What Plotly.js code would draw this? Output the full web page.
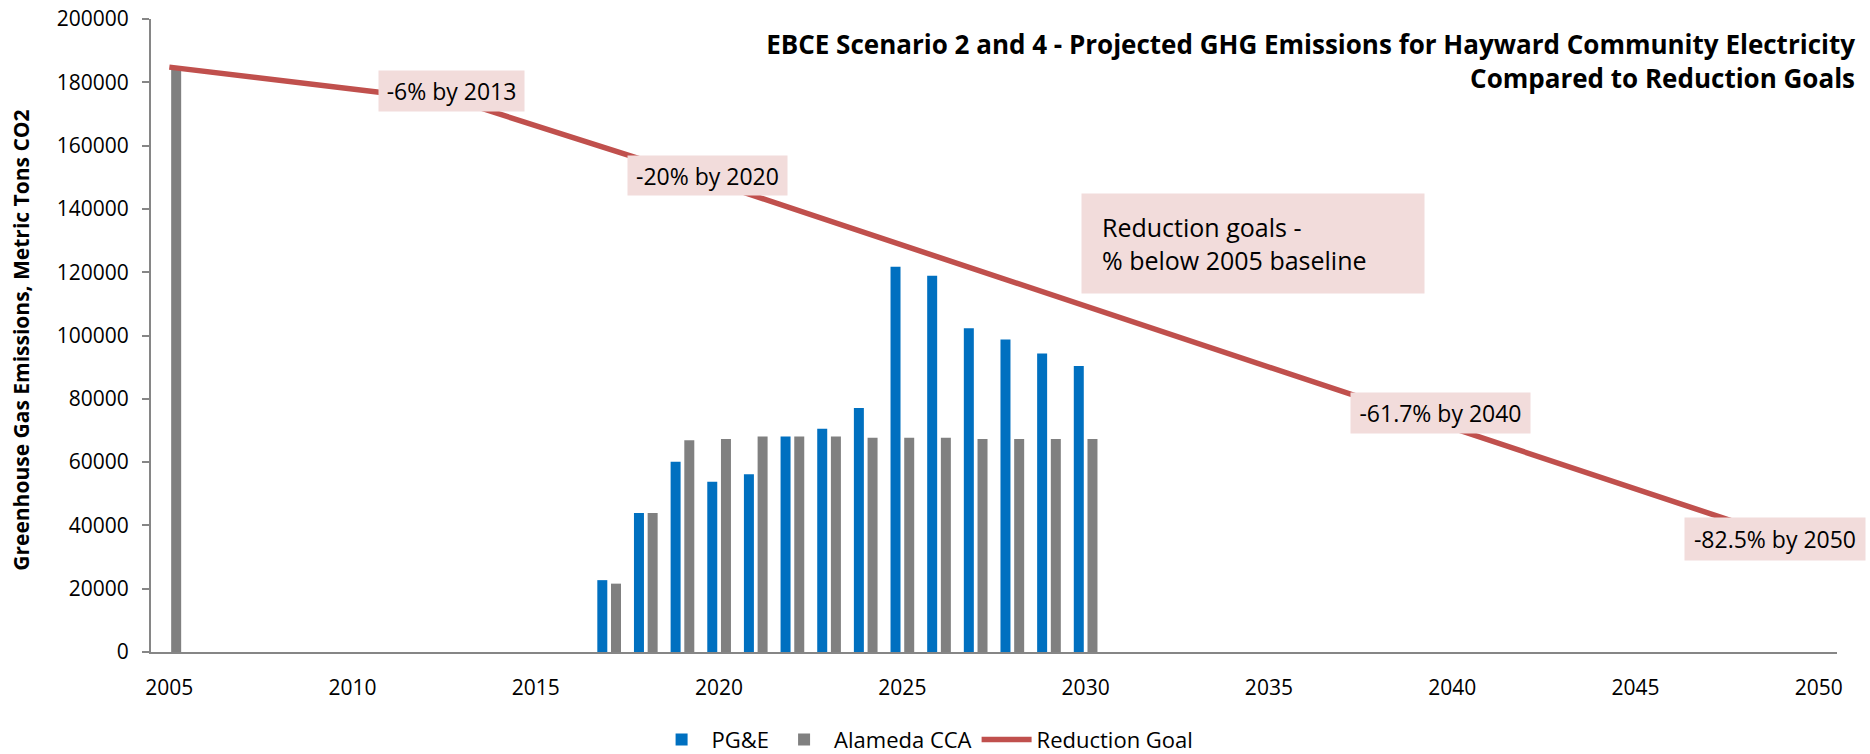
<!DOCTYPE html>
<html>
<head>
<meta charset="utf-8">
<script src="https://cdn.plot.ly/plotly-3.0.1.min.js"></script>
<style>html,body{margin:0;padding:0;background:#fff;}#chart{width:1870px;height:754px;}</style>
</head>
<body>
<div id="chart"></div>
<script>
// ---- data ----
const pgeYears = [2017, 2018, 2019, 2020, 2021, 2022, 2023, 2024, 2025, 2026, 2027, 2028, 2029, 2030];
const pgeValues = [22700, 43900, 60100, 53800, 56200, 68100, 70500, 77100, 121700, 118900, 102300, 98700, 94300, 90400];
const ccaYears = [2005, 2017, 2018, 2019, 2020, 2021, 2022, 2023, 2024, 2025, 2026, 2027, 2028, 2029, 2030];
const ccaValues = [184600, 21600, 43900, 66900, 67300, 68100, 68100, 68100, 67700, 67700, 67700, 67300, 67300, 67300, 67300];
const goalYears = [2005, 2013, 2020, 2040, 2050];
const goalValues = [184800, 173700, 147800, 70800, 32300];
const goalLabels = ['-6% by 2013', '-20% by 2020', '-61.7% by 2040', '-82.5% by 2050'];
const xTickYears = [2005, 2010, 2015, 2020, 2025, 2030, 2035, 2040, 2045, 2050];
const xTickLabels = ['2005', '2010', '2015', '2020', '2025', '2030', '2035', '2040', '2045', '2050'];
const yTicks = [0, 20000, 40000, 60000, 80000, 100000, 120000, 140000, 160000, 180000, 200000];

const FONT = 'Open Sans, Noto Sans, sans-serif';
const AXIS_COLOR = '#868686';
const LABEL_BG = '#F2DCDB';

const traces = [
  {type: 'bar', name: 'PG&E', x: pgeYears, y: pgeValues, marker: {color: '#0070C0'}, hoverinfo: 'x+y+name'},
  {type: 'bar', name: 'Alameda CCA', x: ccaYears, y: ccaValues, marker: {color: '#808080'}, hoverinfo: 'x+y+name'},
  {type: 'scatter', mode: 'lines', name: 'Reduction Goal', x: goalYears, y: goalValues,
   line: {color: '#C0504D', width: 5.5}}
];

// label boxes placed in paper coordinates of the plot area
function lbl(text, x, y, w, h, size, align, pad) {
  return {text: text, xref: 'paper', yref: 'paper', x: x, y: y, xanchor: 'center', yanchor: 'middle',
    showarrow: false, bgcolor: LABEL_BG, borderpad: pad || 0, width: w, height: h, align: align || 'center',
    font: {family: FONT, size: size, color: '#000'}};
}

const annotations = [
  lbl(goalLabels[0], 0.1782, 0.8863, 145, 40, 23),
  lbl(goalLabels[1], 0.3301, 0.7530, 159, 39, 23),
  lbl('Reduction goals -<br>% below 2005 baseline', 0.6536, 0.6456, 302, 59, 25, 'left', 20),
  lbl(goalLabels[2], 0.7648, 0.3781, 179, 40, 23),
  lbl(goalLabels[3], 0.9632, 0.1792, 180, 42, 23),
  // y-axis title
  {text: 'Greenhouse Gas Emissions, Metric Tons CO2', xref: 'paper', yref: 'paper', x: -0.0771, y: 0.4917,
   xanchor: 'center', yanchor: 'middle', textangle: -90, showarrow: false,
   font: {family: FONT, size: 21, weight: 'bold', color: '#000'}}
];

const layout = {
  width: 1870, height: 754,
  paper_bgcolor: '#fff', plot_bgcolor: '#fff',
  margin: {l: 151, r: 33, t: 19, b: 101.5},
  font: {family: FONT, size: 21, color: '#000'},
  title: {
    text: 'EBCE Scenario 2 and 4 - Projected GHG Emissions for Hayward Community Electricity<br>Compared to Reduction Goals',
    xref: 'container', yref: 'container', x: 0.992, xanchor: 'right', y: 0.928, yanchor: 'middle',
    font: {family: FONT, size: 26, weight: 'bold', color: '#000'}
  },
  barmode: 'group', bargap: 0.253, bargroupgap: 0.27,
  xaxis: {
    type: 'linear', range: [2004.5, 2050.5], tickmode: 'array', tickvals: xTickYears, ticktext: xTickLabels,
    ticks: '', showline: true, linecolor: AXIS_COLOR, linewidth: 2, showgrid: false, zeroline: false,
    tickfont: {family: FONT, size: 21, color: '#000'}, ticklabelstandoff: 16, fixedrange: true
  },
  xaxis2: {
    overlaying: 'x', anchor: 'y', side: 'bottom', matches: 'x', range: [2004.5, 2050.5],
    tickmode: 'linear', tick0: 2004.5, dtick: 5, ticks: 'outside', ticklen: 7, tickwidth: 2, tickcolor: AXIS_COLOR,
    showticklabels: false, showline: false, showgrid: false, zeroline: false
  },
  yaxis: {
    range: [0, 200000], tickmode: 'array', tickvals: yTicks, tickformat: 'd',
    ticks: 'outside', ticklen: 7, tickwidth: 2, tickcolor: AXIS_COLOR,
    showline: true, linecolor: AXIS_COLOR, linewidth: 2, showgrid: false, zeroline: false,
    tickfont: {family: FONT, size: 21, color: '#000'}, ticklabelstandoff: 9
  },
  legend: {
    orientation: 'h', xref: 'container', yref: 'container', x: 0.4947, xanchor: 'center', y: 0.019, yanchor: 'middle',
    font: {family: FONT, size: 22, color: '#000'}, itemwidth: 50, traceorder: 'normal'
  },
  annotations: annotations,
  showlegend: true
};

Plotly.newPlot('chart', traces, layout, {displayModeBar: false, staticPlot: true});
</script>
</body>
</html>
